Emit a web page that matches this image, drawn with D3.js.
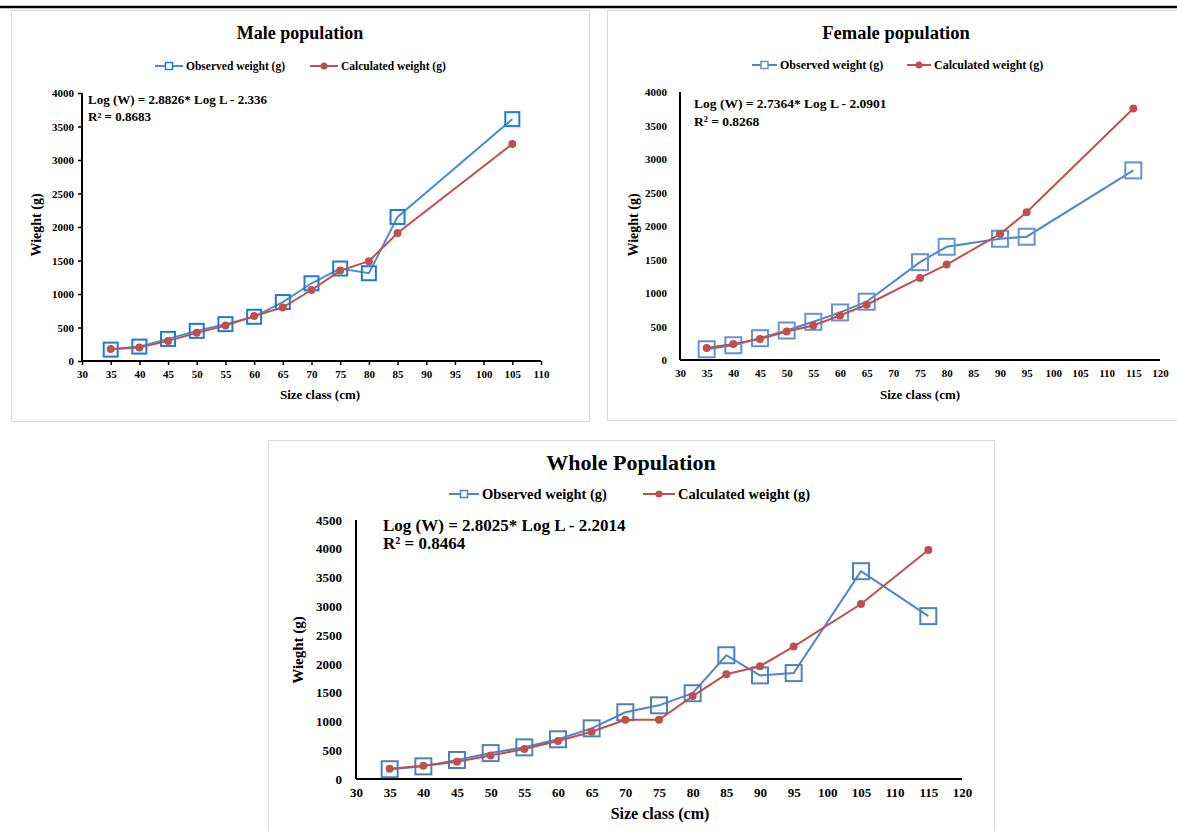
<!DOCTYPE html>
<html>
<head>
<meta charset="utf-8">
<script src="https://cdn.jsdelivr.net/npm/d3@7"></script>
<style>
  html, body { margin: 0; padding: 0; background: #fff; }
  svg { display: block; font-family: "Liberation Serif", "Times New Roman", serif; }
</style>
</head>
<body>
<svg id="chart" width="1177" height="831"></svg>
<script>
// ---------- data ----------
const maleSize = [35, 40, 45, 50, 55, 60, 65, 70, 75, 80, 85, 105];
const maleObserved = [170, 215, 330, 450, 550, 660, 880, 1160, 1380, 1310, 2150, 3610];
const maleCalculated = [180, 200, 300, 420, 530, 670, 800, 1060, 1350, 1490, 1910, 3240];

const femaleSize = [35, 40, 45, 50, 55, 60, 65, 75, 80, 90, 95, 115];
const femaleObserved = [160, 220, 325, 440, 570, 710, 870, 1460, 1690, 1810, 1840, 2830];
const femaleCalculated = [180, 240, 315, 425, 515, 665, 825, 1225, 1425, 1880, 2205, 3755];

const wholeSize = [35, 40, 45, 50, 55, 60, 65, 70, 75, 80, 85, 90, 95, 105, 115];
const wholeObserved = [170, 220, 330, 450, 550, 690, 880, 1160, 1280, 1490, 2150, 1800, 1840, 3610, 2830];
const wholeCalculated = [180, 230, 300, 410, 520, 660, 820, 1030, 1030, 1440, 1820, 1960, 2300, 3040, 3980];

const maleXTicks = [30, 35, 40, 45, 50, 55, 60, 65, 70, 75, 80, 85, 90, 95, 100, 105, 110];
const wideXTicks = [30, 35, 40, 45, 50, 55, 60, 65, 70, 75, 80, 85, 90, 95, 100, 105, 110, 115, 120];
const yTicks4000 = [0, 500, 1000, 1500, 2000, 2500, 3000, 3500, 4000];
const yTicks4500 = [0, 500, 1000, 1500, 2000, 2500, 3000, 3500, 4000, 4500];

const seriesNames = ["Observed weight (g)", "Calculated weight (g)"];
const titles = ["Male population", "Female population", "Whole Population"];
const equations = [
  ["Log (W) = 2.8826* Log L - 2.336", "R² = 0.8683"],
  ["Log (W) = 2.7364* Log L - 2.0901", "R² = 0.8268"],
  ["Log (W) = 2.8025* Log L - 2.2014", "R² = 0.8464"]
];
const xAxisTitle = "Size class (cm)";
const yAxisTitle = "Wieght (g)";

// ---------- drawing ----------
const svg = d3.select("#chart");
svg.append("rect").attr("width", 1177).attr("height", 831).attr("fill", "#fff");
svg.append("line").attr("x1", 0).attr("x2", 1177).attr("y1", 7).attr("y2", 7)
  .attr("stroke", "#000").attr("stroke-width", 2.5);

const RED = "#C0504D";

function drawPanel(cfg) {
  const g = svg.append("g");
  g.append("rect").attr("x", cfg.box[0] + 0.5).attr("y", cfg.box[1] + 0.5)
    .attr("width", cfg.box[2]).attr("height", cfg.box[3])
    .attr("fill", "#fff").attr("stroke", "#d9d9d9").attr("stroke-width", 1);

  const x = d3.scaleLinear().domain([cfg.xTicks[0], cfg.xTicks[cfg.xTicks.length - 1]])
    .range([cfg.plot.x0, cfg.plot.x1]);
  const y = d3.scaleLinear().domain([0, cfg.yTicks[cfg.yTicks.length - 1]])
    .range([cfg.plot.y0, cfg.plot.y1]);

  g.append("text").attr("x", cfg.titlePos[0]).attr("y", cfg.titlePos[1])
    .attr("text-anchor", "middle").attr("font-weight", "bold")
    .attr("font-size", cfg.titleSize).text(cfg.title);

  const leg = g.append("g").attr("font-weight", "bold").attr("font-size", cfg.legendSize);
  cfg.legend.forEach((L, i) => {
    const col = i === 0 ? cfg.obsLine : RED;
    leg.append("line").attr("x1", L[0]).attr("x2", L[0] + L[1]).attr("y1", cfg.legendY).attr("y2", cfg.legendY)
      .attr("stroke", col).attr("stroke-width", 2);
    const cx = L[0] + L[1] / 2;
    if (i === 0) {
      leg.append("rect").attr("x", cx - 3.5).attr("y", cfg.legendY - 3.5).attr("width", 7).attr("height", 7)
        .attr("fill", "#fff").attr("stroke", cfg.obsMarker).attr("stroke-width", 1.5);
    } else {
      leg.append("circle").attr("cx", cx).attr("cy", cfg.legendY).attr("r", 3.5).attr("fill", RED);
    }
    leg.append("text").attr("x", L[0] + L[1] + 3).attr("y", cfg.legendY).attr("dy", "0.35em")
      .text(seriesNames[i]);
  });

  const xAxis = d3.axisBottom(x).tickValues(cfg.xTicks).tickSize(cfg.tickLen).tickPadding(cfg.tickPadX)
    .tickFormat(d3.format("d"));
  const gx = g.append("g").attr("transform", `translate(0,${cfg.plot.y0})`).call(xAxis);
  const yAxis = d3.axisLeft(y).tickValues(cfg.yTicks).tickSize(cfg.tickLen).tickPadding(cfg.tickPadY)
    .tickFormat(d3.format("d"));
  const gy = g.append("g").attr("transform", `translate(${cfg.plot.x0},0)`).call(yAxis);
  [gx, gy].forEach(a => {
    a.select(".domain").attr("stroke", "#000").attr("stroke-width", 2);
    a.selectAll(".tick line").attr("stroke", "#000").attr("stroke-width", 1.5);
    a.selectAll(".tick text").attr("fill", "#000").attr("font-weight", "bold")
      .attr("font-size", cfg.tickSize).attr("font-family", '"Liberation Serif", serif');
  });
  gx.select(".domain").attr("d", `M${cfg.plot.x0},0H${cfg.plot.x1}`);
  gy.select(".domain").attr("d", `M0,${cfg.plot.y0}V${cfg.plot.y1}`);

  g.append("text").attr("x", cfg.xTitlePos[0]).attr("y", cfg.xTitlePos[1])
    .attr("text-anchor", "middle").attr("font-weight", "bold").attr("font-size", cfg.xTitleSize)
    .text(xAxisTitle);
  g.append("text").attr("transform", `translate(${cfg.yTitlePos[0]},${cfg.yTitlePos[1]}) rotate(-90)`)
    .attr("text-anchor", "middle").attr("font-weight", "bold").attr("font-size", cfg.yTitleSize)
    .text(yAxisTitle);

  cfg.equation.forEach((t, i) => {
    g.append("text").attr("x", cfg.eqPos[0]).attr("y", cfg.eqPos[1] + i * cfg.eqGap)
      .attr("font-weight", "bold").attr("font-size", cfg.eqSize).text(t);
  });

  const obs = cfg.size.map((s, i) => ({ s, v: cfg.observed[i] }));
  const cal = cfg.size.map((s, i) => ({ s, v: cfg.calculated[i] }));
  const line = d3.line().x(d => x(d.s)).y(d => y(d.v));

  g.append("path").datum(obs).attr("d", line).attr("fill", "none")
    .attr("stroke", cfg.obsLine).attr("stroke-width", 2);
  g.selectAll(".sq").data(obs).enter().append("rect")
    .attr("x", d => x(d.s) - cfg.sq / 2).attr("y", d => y(d.v) - cfg.sq / 2)
    .attr("width", cfg.sq).attr("height", cfg.sq)
    .attr("fill", "none").attr("stroke", cfg.obsMarker).attr("stroke-width", 2);

  g.append("path").datum(cal).attr("d", line).attr("fill", "none")
    .attr("stroke", RED).attr("stroke-width", 2);
  g.selectAll(".dot").data(cal).enter().append("circle")
    .attr("cx", d => x(d.s)).attr("cy", d => y(d.v)).attr("r", 4).attr("fill", RED);
}

drawPanel({
  box: [11, 10, 578, 411],
  plot: { x0: 82, x1: 541, y0: 361, y1: 93 },
  xTicks: maleXTicks, yTicks: yTicks4000,
  size: maleSize, observed: maleObserved, calculated: maleCalculated,
  title: titles[0], titlePos: [300, 39], titleSize: 18,
  legendY: 66, legendSize: 11.5, legend: [[155, 28], [310, 28]],
  equation: equations[0], eqPos: [88, 104], eqGap: 17, eqSize: 13,
  tickLen: 4, tickPadX: 5, tickPadY: 4, tickSize: 11,
  xTitlePos: [320, 399], yTitlePos: [41, 225], xTitleSize: 13, yTitleSize: 14,
  obsLine: "#4A8FD6", obsMarker: "#1C7CD0", sq: 14
});

drawPanel({
  box: [607, 10, 580, 410],
  plot: { x0: 680, x1: 1160, y0: 360, y1: 92 },
  xTicks: wideXTicks, yTicks: yTicks4000,
  size: femaleSize, observed: femaleObserved, calculated: femaleCalculated,
  title: titles[1], titlePos: [896, 39], titleSize: 18.5,
  legendY: 65, legendSize: 12, legend: [[752, 25], [907, 24]],
  equation: equations[1], eqPos: [694, 108], eqGap: 18, eqSize: 13.5,
  tickLen: 0, tickPadX: 9, tickPadY: 13, tickSize: 11,
  xTitlePos: [920, 399], yTitlePos: [638, 225], xTitleSize: 13, yTitleSize: 14,
  obsLine: "#4F86C6", obsMarker: "#6393D0", sq: 16
});

drawPanel({
  box: [268, 440, 726, 400],
  plot: { x0: 356, x1: 962, y0: 779, y1: 520 },
  xTicks: wideXTicks, yTicks: yTicks4500,
  size: wholeSize, observed: wholeObserved, calculated: wholeCalculated,
  title: titles[2], titlePos: [631, 470], titleSize: 22,
  legendY: 494, legendSize: 14.5, legend: [[449, 30], [643, 32]],
  equation: equations[2], eqPos: [383, 531], eqGap: 18, eqSize: 17,
  tickLen: 0, tickPadX: 9, tickPadY: 14, tickSize: 13,
  xTitlePos: [660, 819], yTitlePos: [303, 650], xTitleSize: 16, yTitleSize: 15,
  obsLine: "#4F86C6", obsMarker: "#4F81BD", sq: 16
});
</script>
</body>
</html>
